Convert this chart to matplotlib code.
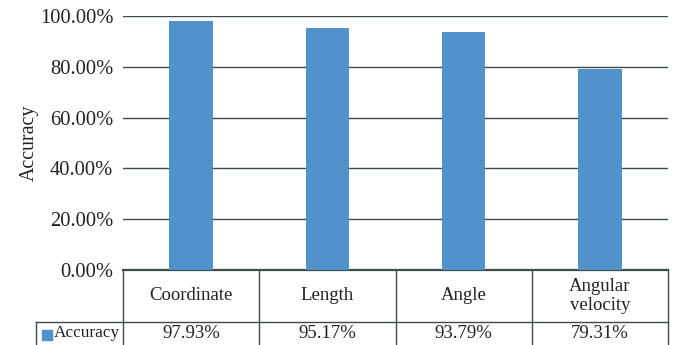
import matplotlib
matplotlib.use('Agg')
import matplotlib.pyplot as plt
from matplotlib.patches import Rectangle
from matplotlib.ticker import FuncFormatter

categories = ['Coordinate', 'Length', 'Angle', 'Angular\nvelocity']
accuracy = [97.93, 95.17, 93.79, 79.31]
series_name = 'Accuracy'

BAR_COLOR = '#5192CB'
LINE_COLOR = '#3C4A4E'

plt.rcParams['font.family'] = ['Liberation Serif', 'DejaVu Serif']

fig = plt.figure(figsize=(6.75, 3.45), dpi=100, facecolor='white')
ax = fig.add_axes([123 / 675, 1 - 270 / 345, 545 / 675, 254 / 345])

x = list(range(len(categories)))
ax.bar(x, accuracy, width=0.32, color=BAR_COLOR, zorder=3)

ax.set_xlim(-0.5, len(categories) - 0.5)
ax.set_ylim(0, 100)
ax.set_yticks([0, 20, 40, 60, 80, 100])
ax.yaxis.set_major_formatter(FuncFormatter(lambda v, _: f'{v:.2f}%'))
ax.tick_params(axis='y', length=0, pad=7, labelsize=14.8, colors='#222222')
ax.set_xticks([])
ax.grid(axis='y', color=LINE_COLOR, linewidth=1.0, zorder=1)
for side in ['top', 'right', 'left']:
    ax.spines[side].set_visible(False)
ax.spines['bottom'].set_color(LINE_COLOR)
ax.spines['bottom'].set_linewidth(1.6)
ax.set_ylabel('Accuracy', fontsize=14.3, labelpad=1, color='#222222')

# data table under the plot: header row with categories, value row below
row1 = -52 / 254
row2 = -0.40
lk = dict(color=LINE_COLOR, linewidth=1.0, clip_on=False,
          transform=ax.get_xaxis_transform())
n = len(categories)
for i in range(n + 1):
    ax.plot([i - 0.5, i - 0.5], [0, row2], **lk)
ax.plot([-0.5, n - 0.5], [row1, row1], **lk)

for i, (cat, val) in enumerate(zip(categories, accuracy)):
    ax.text(i, row1 / 2, cat, ha='center', va='center', fontsize=13.5,
            linespacing=1.1, transform=ax.get_xaxis_transform(), color='#222222')
    ax.text(i, row1 - 11 / 254, f'{val:.2f}%', ha='center', va='center', fontsize=13.5,
            transform=ax.get_xaxis_transform(), color='#222222')

# legend key cell left of the value row
fig_line = dict(color=LINE_COLOR, linewidth=1.0, transform=fig.transFigure)
fig.add_artist(plt.Line2D([36 / 675, 123 / 675], [1 - 322 / 345] * 2, **fig_line))
fig.add_artist(plt.Line2D([36 / 675, 36 / 675], [1 - 322 / 345, 0], **fig_line))
fig.add_artist(Rectangle((42 / 675, 1 - 340 / 345), 10 / 675, 10 / 345,
                         color=BAR_COLOR, transform=fig.transFigure))
fig.text(54 / 675, 1 - 333 / 345, series_name, ha='left', va='center',
         fontsize=12.4, color='#222222')

fig.savefig('out.png', dpi=100, facecolor='white')
